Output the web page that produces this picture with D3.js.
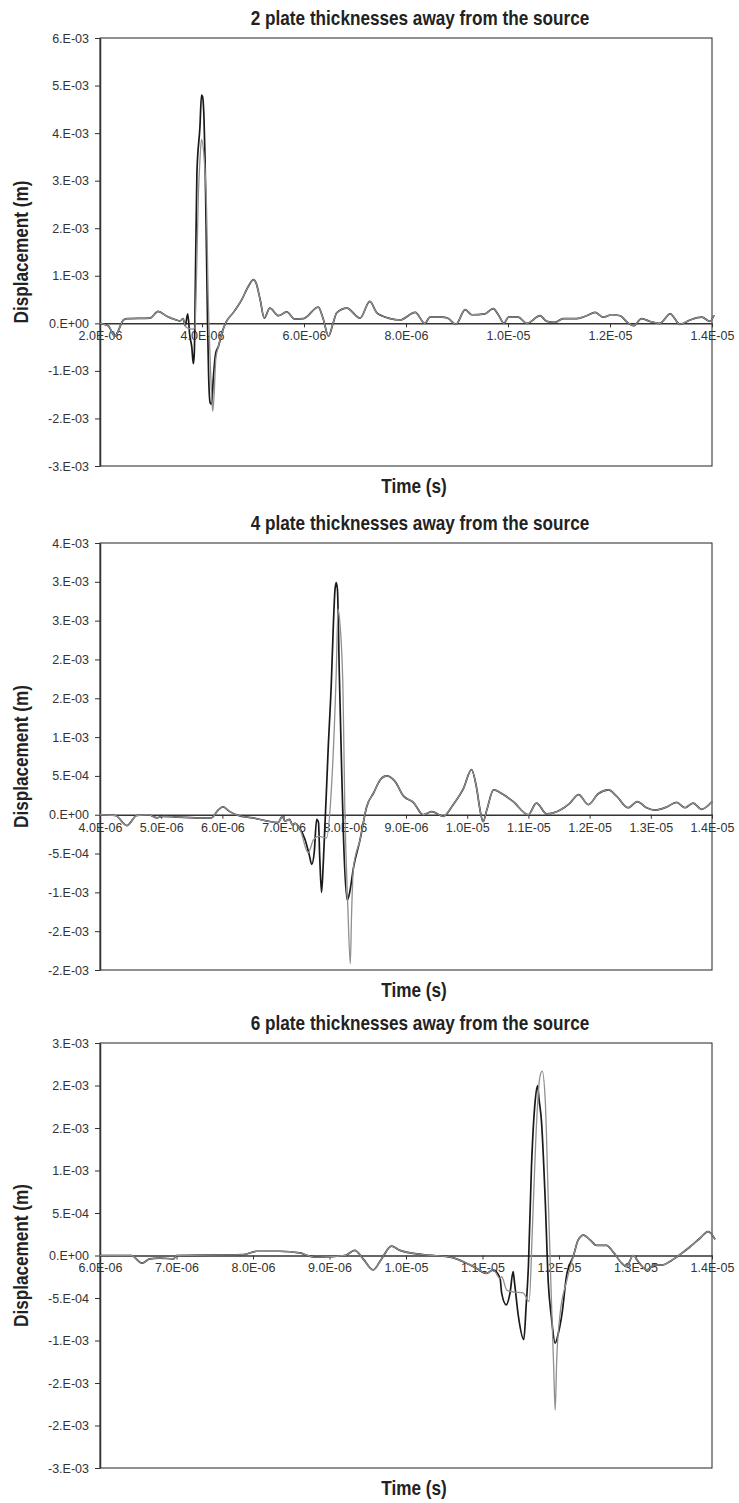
<!DOCTYPE html>
<html>
<head>
<meta charset="utf-8">
<script src="https://cdn.jsdelivr.net/npm/d3@7"></script>
<style>
  body { margin: 0; background: #fff; }
  svg { display: block; }
</style>
</head>
<body>
<div id="chart"></div>
<script>
// time in microseconds, displacement in millimetres (1 mm = 1E-03 m)

// ---- panel 1: 2 plate thicknesses ----
const p1Before = [[2.00,0],[2.16,-0.05],[2.29,-0.27],[2.46,0.07],[2.53,0.10],[2.98,0.11],[3.14,0.25],
  [3.31,0.15],[3.47,0.08],[3.57,0.05],[3.63,0.10],[3.67,-0.05]];
const p1BlackPulse = [[3.72,0.20],[3.76,-0.25],[3.80,-0.50],[3.83,-0.85],[3.85,-0.60],[3.86,0.00],
  [3.90,3.16],[3.96,4.14],[3.99,4.80],[4.01,4.77],[4.04,4.28],[4.06,3.44],[4.09,1.34],[4.11,-0.07],
  [4.13,-1.10],[4.16,-1.67],[4.19,-1.70],[4.22,-1.18],[4.27,-0.62]];
const p1GrayPulse = [[3.72,-0.10],[3.82,-0.12],[3.86,-0.10],[3.90,1.34],[3.93,2.74],[3.96,3.44],
  [3.99,3.86],[4.04,3.50],[4.09,2.39],[4.12,0.64],[4.16,-0.76],[4.19,-1.54],[4.21,-1.85],[4.24,-1.46],[4.27,-0.76]];
const p1After = [[4.32,-0.49],[4.39,-0.20],[4.48,0.04],[4.61,0.22],[4.78,0.50],[4.91,0.78],[5.01,0.92],
  [5.06,0.85],[5.14,0.50],[5.22,0.11],[5.33,0.32],[5.50,0.16],[5.66,0.24],[5.82,0.09],[5.99,0.10],
  [6.28,0.34],[6.38,0.08],[6.48,-0.27],[6.57,0.00],[6.64,0.22],[6.84,0.32],[7.10,0.11],[7.29,0.46],
  [7.43,0.22],[7.69,0.10],[7.88,0.07],[8.18,0.23],[8.37,0.00],[8.47,0.13],[8.70,0.13],[8.83,0.10],
  [8.98,-0.02],[9.16,0.29],[9.29,0.18],[9.55,0.20],[9.71,0.31],[9.81,0.18],[9.92,0.00],[10.01,0.13],
  [10.20,0.13],[10.37,0.00],[10.63,0.16],[10.76,0.04],[10.92,0.02],[11.08,0.10],[11.35,0.10],
  [11.54,0.16],[11.71,0.23],[11.87,0.13],[12.03,0.18],[12.20,0.16],[12.33,0.03],[12.46,-0.05],
  [12.62,0.10],[12.78,0.04],[12.98,0.00],[13.18,0.20],[13.37,-0.02],[13.57,0.07],[13.80,0.13],
  [13.96,0.04],[14.04,0.17]];
const p1XTicks = [2, 4, 6, 8, 10, 12, 14];
const p1XLabels = ["2.0E-06","4.0E-06","6.0E-06","8.0E-06","1.0E-05","1.2E-05","1.4E-05"];
const p1YTicks = [6, 5, 4, 3, 2, 1, 0, -1, -2, -3];
const p1YLabels = ["6.E-03","5.E-03","4.E-03","3.E-03","2.E-03","1.E-03","0.E+00","-1.E-03","-2.E-03","-3.E-03"];

// ---- panel 2: 4 plate thicknesses ----
const p2Before = [[4.00,0],[4.25,-0.01],[4.44,-0.14],[4.60,-0.01],[4.79,0.00],[4.93,-0.04],[5.03,-0.02],
  [5.25,-0.03],[5.63,-0.04],[5.82,-0.04],[5.93,0.06],[6.01,0.10],[6.12,0.04],[6.26,-0.01],[6.50,-0.04],
  [6.72,-0.08],[6.91,-0.10],[6.98,-0.02],[7.02,-0.08],[7.10,-0.06],[7.14,-0.13],[7.19,-0.11],[7.24,-0.15]];
const p2BlackPulse = [[7.35,-0.32],[7.42,-0.52],[7.46,-0.64],[7.50,-0.49],[7.54,-0.06],[7.57,-0.10],
  [7.59,-0.54],[7.62,-1.00],[7.65,-0.60],[7.73,0.88],[7.78,1.70],[7.81,2.38],[7.84,2.90],[7.86,2.99],
  [7.88,2.90],[7.91,1.83],[7.95,0.54],[7.98,-0.32],[8.04,-1.10],[8.08,-1.00],[8.14,-0.69]];
const p2GrayPulse = [[7.27,-0.19],[7.40,-0.49],[7.49,-0.32],[7.57,-0.28],[7.70,-0.30],[7.78,0.32],
  [7.86,1.83],[7.89,2.65],[7.92,2.47],[7.97,1.61],[8.00,0.11],[8.05,-1.20],[8.09,-1.92],[8.11,-1.30],[8.14,-0.69]];
const p2After = [[8.25,-0.32],[8.36,0.11],[8.47,0.28],[8.58,0.45],[8.68,0.50],[8.82,0.43],[8.96,0.24],
  [9.12,0.16],[9.28,0.00],[9.42,0.04],[9.61,-0.02],[9.77,0.13],[9.94,0.34],[10.07,0.58],[10.15,0.36],
  [10.21,0.06],[10.26,-0.09],[10.32,0.06],[10.43,0.32],[10.59,0.26],[10.75,0.17],[11.00,0.00],
  [11.13,0.15],[11.30,0.01],[11.52,0.06],[11.68,0.15],[11.82,0.26],[11.98,0.13],[12.14,0.27],
  [12.31,0.32],[12.44,0.24],[12.63,0.09],[12.78,0.17],[12.93,0.09],[13.07,0.06],[13.26,0.10],
  [13.42,0.16],[13.56,0.09],[13.69,0.15],[13.83,0.07],[14.00,0.17]];
const p2XTicks = [4, 5, 6, 7, 8, 9, 10, 11, 12, 13, 14];
const p2XLabels = ["4.0E-06","5.0E-06","6.0E-06","7.0E-06","8.0E-06","9.0E-06","1.0E-05","1.1E-05","1.2E-05","1.3E-05","1.4E-05"];
const p2YTicks = [3.5, 3, 2.5, 2, 1.5, 1, 0.5, 0, -0.5, -1, -1.5, -2];
const p2YLabels = ["4.E-03","3.E-03","3.E-03","2.E-03","2.E-03","1.E-03","5.E-04","0.E+00","-5.E-04","-1.E-03","-2.E-03","-2.E-03"];

// ---- panel 3: 6 plate thicknesses ----
const p3Before = [[6.00,0],[6.41,0.00],[6.55,-0.09],[6.65,-0.04],[6.78,-0.03],[6.96,-0.04],[7.00,0.00],
  [7.87,0.01],[8.05,0.05],[8.35,0.05],[8.61,0.03],[8.75,-0.01],[8.85,-0.02],[9.20,0.00],[9.33,0.06],
  [9.44,-0.04],[9.57,-0.17],[9.68,-0.04],[9.81,0.11],[9.92,0.06],[10.14,0.02],[10.36,0.00],[10.58,-0.02],
  [10.79,-0.09],[10.92,-0.15],[11.05,-0.21],[11.14,-0.17],[11.23,-0.27]];
const p3BlackPulse = [[11.25,-0.44],[11.31,-0.58],[11.36,-0.44],[11.40,-0.19],[11.42,-0.33],[11.47,-0.72],
  [11.54,-0.99],[11.57,-0.60],[11.60,-0.13],[11.64,1.04],[11.69,1.83],[11.72,2.00],[11.74,1.83],
  [11.77,1.59],[11.82,0.65],[11.86,-0.32],[11.90,-0.72],[11.95,-1.03],[11.99,-0.92],[12.04,-0.68],[12.10,-0.23]];
const p3GrayPulse = [[11.25,-0.25],[11.32,-0.41],[11.42,-0.43],[11.53,-0.44],[11.61,-0.54],[11.65,0.26],
  [11.70,1.44],[11.75,2.10],[11.78,2.17],[11.82,1.83],[11.86,0.65],[11.90,-0.50],[11.93,-1.30],
  [11.95,-1.82],[11.97,-1.23],[12.01,-0.72],[12.10,-0.30]];
const p3After = [[12.19,0.00],[12.25,0.18],[12.32,0.24],[12.41,0.18],[12.49,0.12],[12.62,0.12],
  [12.71,0.04],[12.82,-0.09],[12.88,-0.13],[12.97,0.00],[13.05,-0.09],[13.15,-0.17],[13.25,-0.11],
  [13.36,-0.11],[13.45,-0.07],[13.58,0.01],[13.71,0.10],[13.84,0.20],[13.95,0.28],[14.04,0.19]];
const p3XTicks = [6, 7, 8, 9, 10, 11, 12, 13, 14];
const p3XLabels = ["6.0E-06","7.0E-06","8.0E-06","9.0E-06","1.0E-05","1.1E-05","1.2E-05","1.3E-05","1.4E-05"];
const p3YTicks = [2.5, 2, 1.5, 1, 0.5, 0, -0.5, -1, -1.5, -2, -2.5];
const p3YLabels = ["3.E-03","2.E-03","2.E-03","1.E-03","5.E-04","0.E+00","-5.E-04","-1.E-03","-2.E-03","-2.E-03","-3.E-03"];

const titles = ["2 plate thicknesses away from the source",
                "4 plate thicknesses away from the source",
                "6 plate thicknesses away from the source"];

const width = 739, height = 1503;
const svg = d3.select("#chart").append("svg")
    .attr("width", width)
    .attr("height", height)
    .style("font-family", "'Liberation Sans', Arial, sans-serif");

const panels = [
  { title: titles[0], top: 38, bottom: 466,
    black: p1Before.concat(p1BlackPulse, p1After), gray: p1Before.concat(p1GrayPulse, p1After),
    xTicks: p1XTicks, xLabels: p1XLabels, yTicks: p1YTicks, yLabels: p1YLabels },
  { title: titles[1], top: 543, bottom: 970,
    black: p2Before.concat(p2BlackPulse, p2After), gray: p2Before.concat(p2GrayPulse, p2After),
    xTicks: p2XTicks, xLabels: p2XLabels, yTicks: p2YTicks, yLabels: p2YLabels },
  { title: titles[2], top: 1043, bottom: 1468,
    black: p3Before.concat(p3BlackPulse, p3After), gray: p3Before.concat(p3GrayPulse, p3After),
    xTicks: p3XTicks, xLabels: p3XLabels, yTicks: p3YTicks, yLabels: p3YLabels }
];

const left = 100, right = 712;

// bold condensed-looking label: Liberation Sans Bold squeezed horizontally
function boldLabel(g, cx, cy, angle, txt) {
  g.append("text")
      .attr("transform", `translate(${cx},${cy}) rotate(${angle}) scale(0.88,1)`)
      .attr("text-anchor", "middle")
      .attr("dy", "0.35em")
      .style("font-size", "19.5px")
      .style("font-weight", "bold")
      .attr("fill", "#222")
      .text(txt);
}

panels.forEach(p => {
  const x = d3.scaleLinear()
      .domain([p.xTicks[0], p.xTicks[p.xTicks.length - 1]])
      .range([left, right]);
  const y = d3.scaleLinear()
      .domain([p.yTicks[p.yTicks.length - 1], p.yTicks[0]])
      .range([p.bottom, p.top]);

  const g = svg.append("g");

  // plot frame
  g.append("rect")
      .attr("x", left)
      .attr("y", p.top)
      .attr("width", right - left)
      .attr("height", p.bottom - p.top)
      .attr("fill", "none")
      .attr("stroke", "#222")
      .attr("stroke-width", 1);

  // value axis
  const yAxis = d3.axisLeft(y)
      .tickValues(p.yTicks)
      .tickFormat((d, i) => p.yLabels[i])
      .tickSize(5)
      .tickSizeOuter(0)
      .tickPadding(6);
  const ya = g.append("g")
      .attr("transform", `translate(${left},0)`)
      .call(yAxis);
  ya.select(".domain").attr("stroke", "#333").attr("stroke-width", 1.5);
  ya.selectAll(".tick line").attr("stroke", "#333");
  ya.selectAll("text").style("font-size", "12.5px").attr("fill", "#333");

  // time axis crossing at zero
  const xAxis = d3.axisBottom(x)
      .tickValues(p.xTicks)
      .tickFormat((d, i) => p.xLabels[i])
      .tickSize(4)
      .tickSizeOuter(0)
      .tickPadding(4);
  const xa = g.append("g")
      .attr("transform", `translate(0,${y(0)})`)
      .call(xAxis);
  xa.select(".domain").attr("stroke", "#333").attr("stroke-width", 1.5);
  xa.selectAll(".tick line").attr("stroke", "#333");
  xa.selectAll("text").style("font-size", "12.5px").attr("fill", "#333");

  const line = d3.line()
      .x(d => x(d[0]))
      .y(d => y(d[1]))
      .curve(d3.curveMonotoneX);

  g.append("path")
      .datum(p.black)
      .attr("d", line)
      .attr("fill", "none")
      .attr("stroke", "#1a1a1a")
      .attr("stroke-width", 1.7);

  g.append("path")
      .datum(p.gray)
      .attr("d", line)
      .attr("fill", "none")
      .attr("stroke", "#8f8f8f")
      .attr("stroke-width", 1.3);

  // titles
  boldLabel(g, (left + right) / 2 + 14, p.top - 20, 0, p.title);
  boldLabel(g, (left + right) / 2 + 8, p.bottom + 20, 0, "Time (s)");
  boldLabel(g, 21, (p.top + p.bottom) / 2, -90, "Displacement (m)");
});
</script>
</body>
</html>
